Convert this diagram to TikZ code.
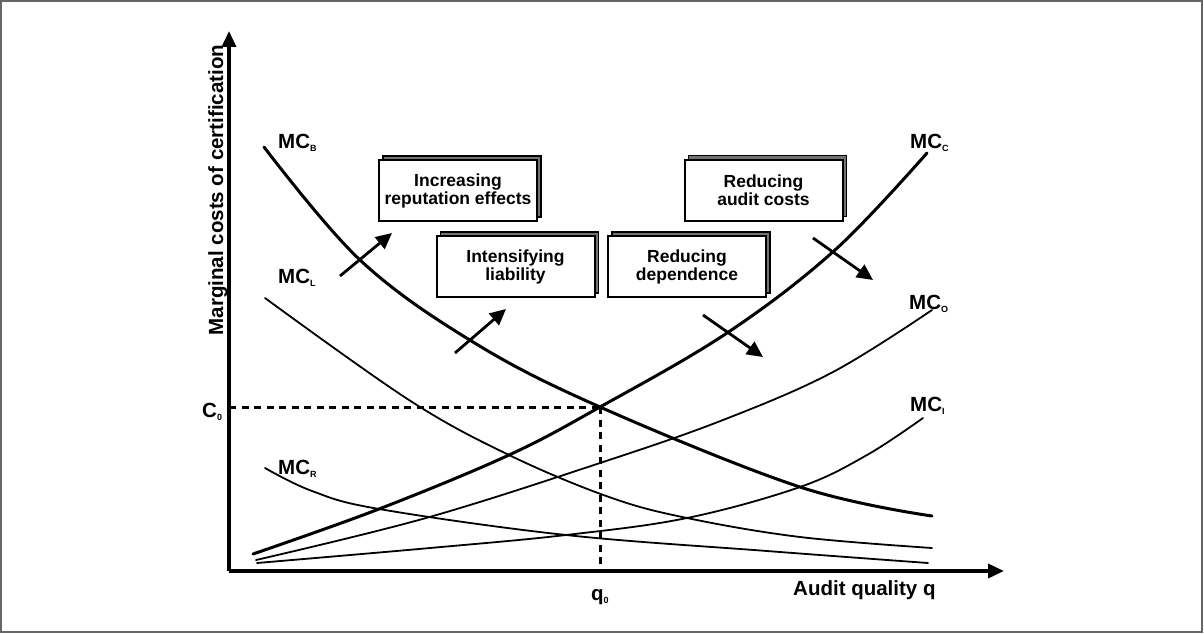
\documentclass[tikz,border=0pt]{standalone}
\usepackage{fontspec}
\setmainfont{Liberation Sans}
\usetikzlibrary{arrows.meta}
\newcommand{\mysub}[1]{\raisebox{-3.5pt}{\fontsize{9}{9}\selectfont #1}}
\begin{document}
\begin{tikzpicture}[x=1pt,y=-1pt,
  lab/.style={font=\fontsize{20.5}{22}\selectfont\bfseries, inner sep=0pt, anchor=base west},
  boxtext/.style={draw=black, line width=2pt, fill=white, minimum width=158pt, minimum height=61pt, inner sep=0pt, align=center, font=\fontsize{17.5}{18}\selectfont\bfseries},
  backbox/.style={draw=black, line width=1.3pt, fill=black!55},
  thickcurve/.style={line width=3pt, line cap=round},
  thincurve/.style={line width=1.8pt, line cap=round},
  axis/.style={line width=3.6pt, -{Triangle[length=16pt,width=14pt]}},
  shiftarrow/.style={line width=2.8pt, -{Triangle[length=16pt,width=15pt]}},
  guide/.style={line width=3pt, dash pattern=on 7pt off 5.5pt},
]
\useasboundingbox (0,0) rectangle (1204,634);
\draw[draw=black!60, line width=1.6pt] (1,1) rectangle (1202,632);

% axes
\coordinate (O) at (229,571);
\coordinate (ytip) at (229,31);
\coordinate (xtip) at (1004,571);
\draw[axis] (O) -- (ytip);
\draw[axis] (O) -- (xtip);

% equilibrium guides
\coordinate (c0) at (229,407);
\coordinate (eq) at (600,407);
\coordinate (q0) at (600,570);
\draw[guide] (c0) -- (eq);
\draw[guide] (eq) -- (q0);

% curves
\draw[thickcurve] plot[smooth, tension=0.6] coordinates {(264,147) (360,260) (473,342) (600,407) (800,487) (932,516)};
\draw[thickcurve] plot[smooth, tension=0.6] coordinates {(253,554) (379,509) (509,455) (600,407) (727,333) (835,250) (927,153)};
\draw[thincurve] plot[smooth, tension=0.6] coordinates {(256,560) (426,518) (600,463) (723,420) (833,372) (932,310)};
\draw[thincurve] plot[smooth, tension=0.6] coordinates {(257,563) (430,548) (566,535) (687,518) (800,487) (867,455) (923,418)};
\draw[thincurve] plot[smooth, tension=0.6] coordinates {(265,468) (312,491) (379,509) (566,535) (767,551) (928,563)};
\draw[thincurve] plot[smooth, tension=0.6] coordinates {(265,298) (409,400) (509,455) (609,497) (687,518) (800,537) (932,548)};

% curve labels
\node[lab] (lB) at (278,148) {MC\mysub{B}};
\node[lab] (lL) at (278,283) {MC\mysub{L}};
\node[lab] (lR) at (278,474) {MC\mysub{R}};
\node[lab] (lC) at (910,148) {MC\mysub{C}};
\node[lab] (lO) at (909,309) {MC\mysub{O}};
\node[lab] (lI) at (910,411) {MC\mysub{I}};
\node[lab] (lC0) at (202,417) {C\mysub{0}};
\node[lab] (lq0) at (591,600) {q\mysub{0}};
\node[lab] (lx) at (793,595) {Audit quality q};
\node[font=\fontsize{20.5}{22}\selectfont\bfseries, inner sep=0pt, anchor=base, rotate=90] (ly) at (223,190) {Marginal costs of certification};

% boxes (back copies first)
\foreach \cx/\cy in {458/190.5, 515.5/266.5, 687/266.5, 763.5/190}{
  \draw[backbox] (\cx-79+4,\cy-30.5-4) rectangle (\cx+79+4,\cy+30.5-4);
}
\node[boxtext] (b1) at (458,190.5) {Increasing\\reputation effects};
\node[boxtext] (b2) at (515.5,266.5) {Intensifying\\liability};
\node[boxtext] (b3) at (687,266.5) {Reducing\\dependence};
\node[boxtext] (b4) at (763.5,190) {Reducing\\audit costs};

% shift arrows
\coordinate (a1s) at (340,276); \coordinate (a1e) at (392,233);
\coordinate (a2s) at (455,353); \coordinate (a2e) at (506,309);
\coordinate (a3s) at (703,315); \coordinate (a3e) at (763,357);
\coordinate (a4s) at (813,238); \coordinate (a4e) at (873,280);
\draw[shiftarrow] (a1s) -- (a1e);
\draw[shiftarrow] (a2s) -- (a2e);
\draw[shiftarrow] (a3s) -- (a3e);
\draw[shiftarrow] (a4s) -- (a4e);
\end{tikzpicture}
\end{document}
